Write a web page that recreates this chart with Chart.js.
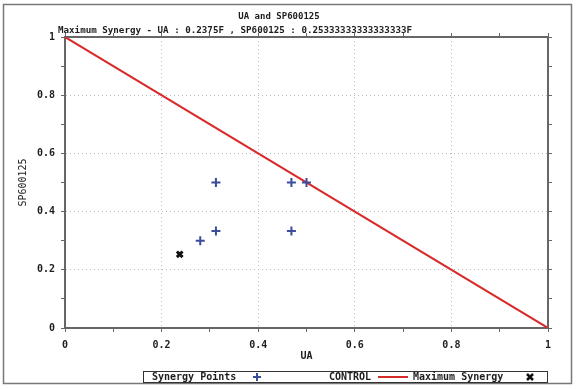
<!DOCTYPE html>
<html>
<head>
<meta charset="utf-8">
<script src="https://cdn.jsdelivr.net/npm/chart.js@4/dist/chart.umd.min.js"></script>
<style>
html, body { margin: 0; padding: 0; background: #fff; }
</style>
</head>
<body>
<canvas id="synergyChart" width="577" height="389"></canvas>
<script>
// synergy points
var synergyUA = [0.3125, 0.3125, 0.28, 0.46875, 0.5, 0.46875];
var synergySP = [0.5, 0.3333, 0.3, 0.5, 0.5, 0.3333];
// control line
var controlUA = [0, 1];
var controlSP = [1, 0];
// maximum synergy point
var maxUA = [0.2375];
var maxSP = [0.25333333333333333];
var subtitleText = 'Maximum Synergy - UA : 0.2375F , SP600125 : 0.25333333333333333F';

var monoFont = 'DejaVu Sans Mono';
var axisColor = '#666666';
var textColor = '#1e1e1e';

function toPoints(xs, ys) {
    var pts = [];
    for (var i in xs) {
        pts.push({ x: xs[i], y: ys[i] });
    }
    return pts;
}

function isMajor(v) {
    return Math.round(v * 10) % 2 === 0;
}

function tickLabel(value) {
    var t = Math.round(value * 10);
    return t % 2 === 0 ? String(t / 10) : '';
}

function gridColor(ctx) {
    return isMajor(ctx.tick.value) ? '#b8b8b8' : 'rgba(0,0,0,0)';
}

var decorPlugin = {
    id: 'decor',
    afterDraw: function (chart) {
        var ctx = chart.ctx;
        var ds = chart.data.datasets;
        ctx.save();
        // outer frame
        ctx.strokeStyle = '#777';
        ctx.lineWidth = 1.5;
        ctx.strokeRect(3.5, 4.5, 568, 379);

        // subtitle line
        ctx.fillStyle = textColor;
        ctx.font = 'bold 9.2px "' + monoFont + '"';
        ctx.textBaseline = 'middle';
        ctx.textAlign = 'left';
        ctx.fillText(subtitleText, 58, 31);

        // legend box
        ctx.strokeStyle = '#333';
        ctx.lineWidth = 1;
        ctx.strokeRect(143.5, 371.5, 404, 11);
        ctx.font = 'bold 10px "' + monoFont + '"';
        var ly = 377;
        ctx.fillText(ds[0].label, 152, ly);
        ctx.strokeStyle = ds[0].borderColor;
        ctx.lineWidth = 2;
        ctx.beginPath();
        ctx.moveTo(253, ly); ctx.lineTo(261, ly);
        ctx.moveTo(257, ly - 4); ctx.lineTo(257, ly + 4);
        ctx.stroke();

        ctx.fillText(ds[1].label, 329, ly);
        ctx.strokeStyle = ds[1].borderColor;
        ctx.beginPath();
        ctx.moveTo(378, ly); ctx.lineTo(408, ly);
        ctx.stroke();

        ctx.fillText(ds[2].label, 413, ly);
        ctx.strokeStyle = ds[2].borderColor;
        ctx.lineWidth = 2.5;
        ctx.beginPath();
        ctx.moveTo(527, ly - 3); ctx.lineTo(533, ly + 3);
        ctx.moveTo(533, ly - 3); ctx.lineTo(527, ly + 3);
        ctx.stroke();
        ctx.restore();
    }
};

var tickFont = { family: monoFont, size: 10, weight: 'bold' };

var chart = new Chart(document.getElementById('synergyChart'), {
    type: 'scatter',
    data: {
        datasets: [
            {
                label: 'Synergy Points',
                data: toPoints(synergyUA, synergySP),
                pointStyle: 'cross',
                pointRadius: 4.5,
                borderWidth: 2,
                borderColor: '#3b4c9c',
                backgroundColor: '#3b4c9c'
            },
            {
                label: 'CONTROL',
                data: toPoints(controlUA, controlSP),
                showLine: true,
                pointRadius: 0,
                borderColor: '#d92a2a',
                borderWidth: 2
            },
            {
                label: 'Maximum Synergy',
                data: toPoints(maxUA, maxSP),
                pointStyle: 'crossRot',
                pointRadius: 4,
                borderWidth: 3,
                borderColor: '#111111',
                backgroundColor: '#111111'
            }
        ]
    },
    options: {
        responsive: false,
        animation: false,
        layout: { padding: { left: 6, right: 25, top: 0, bottom: 25 } },
        plugins: {
            legend: { display: false },
            tooltip: { enabled: false },
            title: {
                display: true,
                text: 'UA and SP600125',
                color: textColor,
                font: { family: monoFont, size: 9, weight: 'bold' },
                padding: { top: 11.6, bottom: 10.6 }
            }
        },
        scales: {
            x: {
                type: 'linear', position: 'bottom', min: 0, max: 1,
                ticks: { stepSize: 0.1, autoSkip: false, maxRotation: 0, padding: 7,
                         callback: tickLabel, font: tickFont, color: textColor },
                grid: { color: gridColor, tickColor: axisColor, tickLength: 4, lineWidth: 1 },
                border: { color: axisColor, width: 2, dash: [1, 3] },
                title: { display: true, text: 'UA', color: textColor,
                         font: tickFont, padding: { top: 0, bottom: 2 } },
                afterFit: function (s) { s.height = 36; }
            },
            y: {
                type: 'linear', position: 'left', min: 0, max: 1,
                ticks: { stepSize: 0.1, autoSkip: false, padding: 6,
                         callback: tickLabel, font: tickFont, color: textColor },
                grid: { color: gridColor, tickColor: axisColor, tickLength: 4, lineWidth: 1 },
                border: { color: axisColor, width: 2, dash: [1, 3] },
                title: { display: true, text: 'SP600125', color: textColor,
                         font: { family: monoFont, size: 10 }, padding: { top: 11, bottom: 0 } },
                afterFit: function (s) { s.width = 59; }
            },
            x2: {
                type: 'linear', position: 'top', min: 0, max: 1,
                ticks: { stepSize: 0.1, autoSkip: false, display: false },
                grid: { drawOnChartArea: false, tickColor: axisColor, tickLength: 4 },
                border: { color: axisColor, width: 2 },
                afterFit: function (s) { s.height = 4; }
            },
            y2: {
                type: 'linear', position: 'right', min: 0, max: 1,
                ticks: { stepSize: 0.1, autoSkip: false, display: false },
                grid: { drawOnChartArea: false, tickColor: axisColor, tickLength: 4 },
                border: { color: axisColor, width: 2 },
                afterFit: function (s) { s.width = 4; }
            }
        }
    },
    plugins: [decorPlugin]
});
</script>
</body>
</html>
